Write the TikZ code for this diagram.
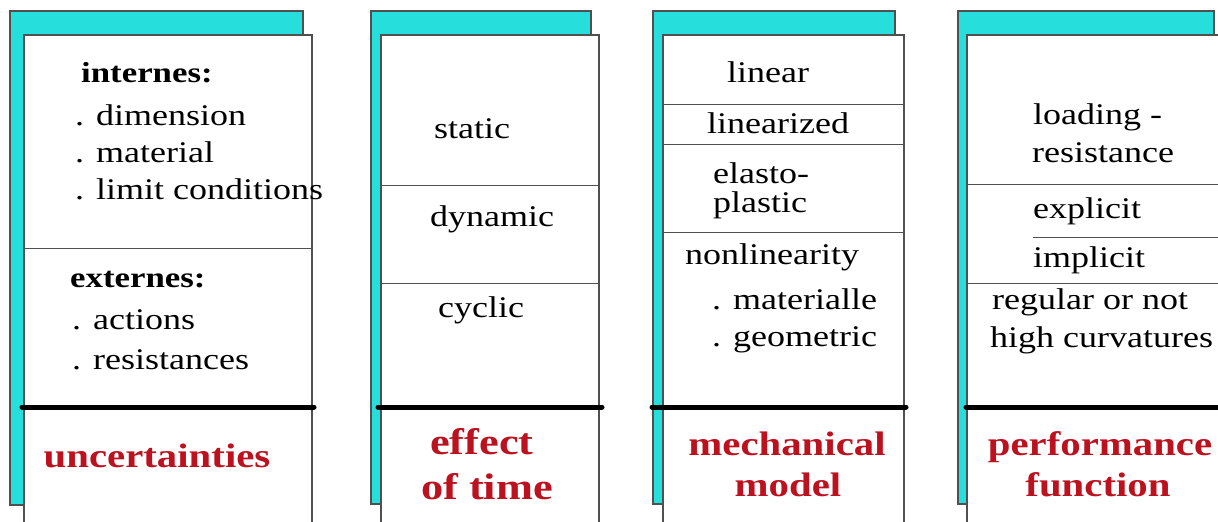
\documentclass[tikz,border=0pt]{standalone}
\usepackage{fontspec}
\setmainfont{Liberation Serif}[FakeStretch=1.2]
\definecolor{cyanfill}{RGB}{38,222,220}
\definecolor{edgegray}{RGB}{80,80,80}
\definecolor{titlered}{RGB}{188,18,32}
\begin{document}
\begin{tikzpicture}[x=1pt,y=-1pt,
  back/.style={fill=cyanfill, draw=edgegray, line width=1.2pt},
  card/.style={fill=white, draw=edgegray, line width=1.2pt},
  sep/.style={draw=edgegray, line width=1pt},
  baseline rule/.style={line width=5pt, line cap=round, draw=black},
  txt/.style={anchor=base west, inner sep=0pt, font=\fontsize{30}{36}\selectfont},
  head/.style={anchor=base west, inner sep=0pt, font=\fontsize{29}{34}\selectfont\bfseries},
  title/.style={anchor=base, inner sep=0pt, text=titlered, font=\fontsize{34}{40}\selectfont\bfseries},
  bigtitle/.style={title, font=\fontsize{37}{44}\selectfont\bfseries}]
\useasboundingbox (0,0) rectangle (1218,522);
\clip (0,0) rectangle (1218,522);
\fill[white] (0,0) rectangle (1218,522);

% column 1
\draw[back] (10,11) rectangle (303,505);
\draw[card] (24,35) rectangle (312,540);
\draw[sep] (24,248) -- (312,248);
\draw[baseline rule] (22,407) -- (314,407);
\node[head] (int) at (81,82) {internes:};
\node[txt] (dim) at (75,125) {. dimension};
\node[txt] (mat) at (75,162) {. material};
\node[txt] (lim) at (75,199) {. limit conditions};
\node[head] (ext) at (70,287) {externes:};
\node[txt] (act) at (72,329) {. actions};
\node[txt] (res) at (72,369) {. resistances};
\node[title] (unc) at (157,467) {uncertainties};

% column 2
\draw[back] (371,11) rectangle (591,504);
\draw[card] (381,35) rectangle (599,540);
\draw[sep] (381,185) -- (599,185);
\draw[sep] (381,283) -- (599,283);
\draw[baseline rule] (378,407) -- (602,407);
\node[txt] (sta) at (434,138) {static};
\node[txt] (dyn) at (430,226) {dynamic};
\node[txt] (cyc) at (438,317) {cyclic};
\node[bigtitle] (eff) at (482,454) {effect};
\node[bigtitle] (oft) at (487,499) {of time};

% column 3
\draw[back] (653,11) rectangle (895,504);
\draw[card] (663,35) rectangle (904,540);
\draw[sep] (663,104) -- (904,104);
\draw[sep] (663,144) -- (904,144);
\draw[sep] (663,232) -- (904,232);
\draw[baseline rule] (652,407) -- (906,407);
\node[txt] (lin) at (727,82) {linear};
\node[txt] (lzd) at (707,133) {linearized};
\node[txt] (ela) at (713,183) {elasto-};
\node[txt] (pla) at (713,212) {plastic};
\node[txt] (non) at (685,264) {nonlinearity};
\node[txt] (mtl) at (712,309) {. materialle};
\node[txt] (geo) at (712,346) {. geometric};
\node[title] (mec) at (787,455) {mechanical};
\node[title] (mod) at (788,496) {model};

% column 4
\draw[back] (958,11) rectangle (1214,504);
\draw[card] (967,35) rectangle (1240,540);
\draw[sep] (967,184) -- (1218,184);
\draw[sep] (1033,237) -- (1218,237);
\draw[sep] (967,283) -- (1218,283);
\draw[baseline rule] (966,407) -- (1225,407);
\node[txt] (loa) at (1033,124) {loading -};
\node[txt] (rsi) at (1032,162) {resistance};
\node[txt] (exp) at (1033,218) {explicit};
\node[txt] (imp) at (1033,267) {implicit};
\node[txt] (reg) at (992,309) {regular or not};
\node[txt] (hig) at (990,347) {high curvatures};
\node[title] (per) at (1100,455) {performance};
\node[title] (fun) at (1098,496) {function};
\end{tikzpicture}
\end{document}
